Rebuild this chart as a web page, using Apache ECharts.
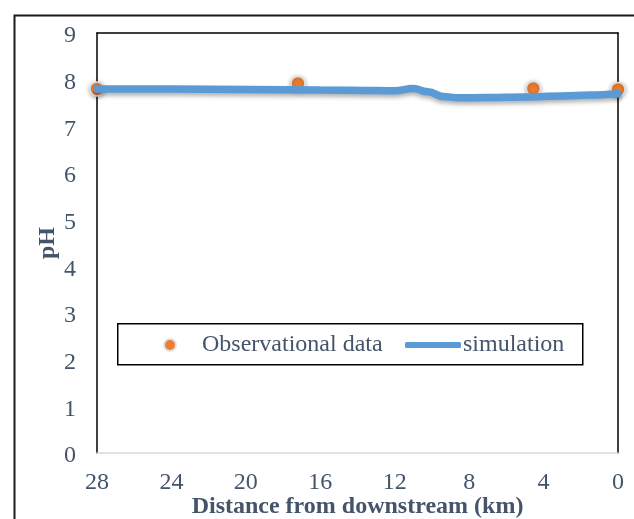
<!DOCTYPE html>
<html>
<head>
<meta charset="utf-8">
<script src="https://cdn.jsdelivr.net/npm/echarts@6/dist/echarts.min.js"></script>
<style>
html,body{margin:0;padding:0;background:#fff;}
#chart{width:634px;height:519px;}
</style>
</head>
<body>
<div id="chart"></div>
<script>
// Data
var xTicks = [28, 24, 20, 16, 12, 8, 4, 0];
var yTicks = [0, 1, 2, 3, 4, 5, 6, 7, 8, 9];
var obsKm = [28, 17.2, 4.55, 0];
var obsPH = [7.80, 7.92, 7.81, 7.79];
var simKm = [28, 24, 20, 16, 13, 12, 11.0, 10.2, 9.4, 8.6, 7, 5, 3, 1.5, 0];
var simPH = [7.80, 7.80, 7.79, 7.78, 7.77, 7.76, 7.81, 7.74, 7.64, 7.61, 7.62, 7.63, 7.65, 7.67, 7.70];
var seriesNames = ['Observational data', 'simulation'];

var obsData = obsKm.map(function (k, i) { return [k, obsPH[i]]; });
var simData = simKm.map(function (k, i) { return [k, simPH[i]]; });

var FONT = 'Liberation Serif';
var TXT = '#44546A';
var FS = 24;

var chart = echarts.init(document.getElementById('chart'), null, {renderer: 'canvas'});
chart.setOption({
  animation: false,
  backgroundColor: '#fff',
  graphic: [
    {type: 'rect', left: 12, top: 13, shape: {width: 640, height: 520},
     style: {fill: 'none', stroke: '#1a1a1a', lineWidth: 2}, z: 100},
    {type: 'rect', left: 117, top: 323, shape: {width: 465, height: 41},
     style: {fill: '#fff', stroke: '#000', lineWidth: 1.5}, z: 5}
  ],
  grid: {left: 97, top: 33, width: 521, height: 420, show: false,
         containLabel: false, outerBoundsMode: 'none'},
  legend: [
    {data: [{name: seriesNames[0], icon: 'circle'}], left: 163, top: 333, padding: 0,
     itemWidth: 12, itemHeight: 12,
     textStyle: {fontFamily: FONT, fontSize: FS, color: TXT, padding: [0, 0, 0, 21]}, z: 10},
    {data: [{name: seriesNames[1], icon: 'roundRect'}], left: 405, top: 333, padding: 0,
     itemWidth: 56, itemHeight: 6,
     textStyle: {fontFamily: FONT, fontSize: FS, color: TXT, padding: [0, 0, 0, -3]}, z: 10}
  ],
  xAxis: [
    {type: 'value', inverse: true, min: 0, max: 28, interval: 4, position: 'bottom',
     name: 'Distance from downstream (km)', nameLocation: 'middle', nameGap: 42,
     nameMoveOverlap: false,
     nameTextStyle: {fontFamily: FONT, fontSize: FS, fontWeight: 'bold', color: TXT},
     axisLine: {show: true, lineStyle: {color: '#D9D9D9', width: 1.5}},
     axisTick: {show: false}, splitLine: {show: false},
     axisLabel: {fontFamily: FONT, fontSize: FS, color: TXT, margin: 18,
       formatter: function (v) { return xTicks.indexOf(v) >= 0 ? String(v) : ''; }}},
    {type: 'value', inverse: true, min: 0, max: 28, interval: 4, position: 'top',
     axisLine: {show: true, onZero: false, lineStyle: {color: '#000', width: 1.5}},
     axisTick: {show: false}, axisLabel: {show: false}, splitLine: {show: false}}
  ],
  yAxis: [
    {type: 'value', min: 0, max: 9, interval: 1, position: 'left',
     name: 'pH', nameLocation: 'middle', nameGap: 37, nameMoveOverlap: false,
     nameTextStyle: {fontFamily: FONT, fontSize: FS, fontWeight: 'bold', color: TXT},
     axisLine: {show: true, onZero: false, lineStyle: {color: '#000', width: 1.5}},
     axisTick: {show: false}, splitLine: {show: false},
     axisLabel: {fontFamily: FONT, fontSize: FS, color: TXT, margin: 21,
       rich: {v: {fontFamily: FONT, fontSize: FS, color: TXT, padding: [6, 0, 0, 0]}},
       formatter: function (v) { return yTicks.indexOf(v) >= 0 ? '{v|' + v + '}' : ''; }}},
    {type: 'value', min: 0, max: 9, interval: 1, position: 'right',
     axisLine: {show: true, onZero: false, lineStyle: {color: '#000', width: 1.5}},
     axisTick: {show: false}, axisLabel: {show: false}, splitLine: {show: false}}
  ],
  series: [
    {name: seriesNames[0], type: 'scatter', data: obsData, symbol: 'circle', symbolSize: 14,
     itemStyle: {color: '#ED7D31', opacity: 1, borderColor: 'rgba(225,225,225,1)', borderWidth: 1.5,
       shadowBlur: 4, shadowColor: 'rgba(0,0,0,0.3)', shadowOffsetY: 1}, z: 3},
    {name: seriesNames[1], type: 'line', data: simData, symbol: 'none', smooth: 0.4,
     smoothMonotone: 'x',
     lineStyle: {color: '#5B9BD5', width: 7.5, cap: 'round',
       shadowBlur: 4, shadowColor: 'rgba(0,0,0,0.3)', shadowOffsetY: 3},
     itemStyle: {color: '#5B9BD5'}, z: 4}
  ]
});
</script>
</body>
</html>
